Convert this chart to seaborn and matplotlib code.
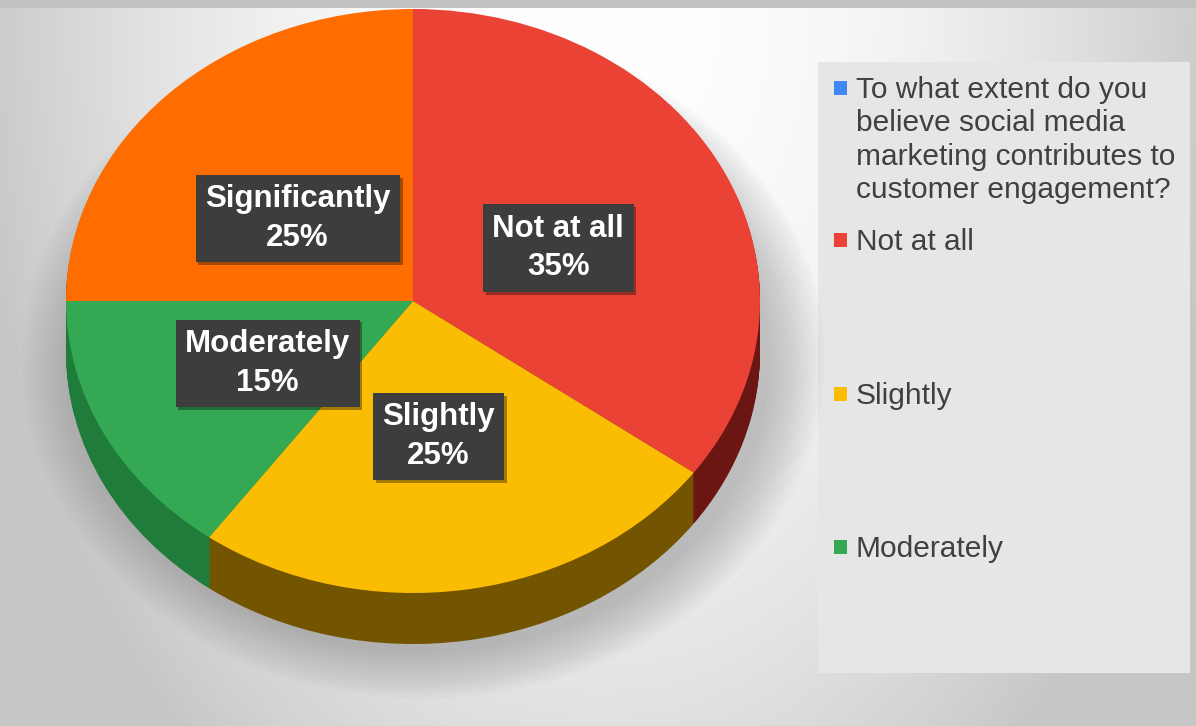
import numpy as np
import matplotlib
matplotlib.use("Agg")
import matplotlib.pyplot as plt
import matplotlib.patheffects as pe
from matplotlib.patches import Rectangle, Ellipse
import seaborn as sns

# ---------------- data ----------------
categories = ["Not at all", "Slightly", "Moderately", "Significantly"]
values = [35, 25, 15, 25]
legend_labels = [
    "To what extent do you\nbelieve social media\nmarketing contributes to\ncustomer engagement?",
    "Not at all",
    "Slightly",
    "Moderately",
]

# ---------------- style ----------------
top_colors = sns.color_palette(["#EA4335", "#FBBC04", "#34A853", "#FF6D01"])
side_colors = sns.color_palette(["#6B1612", "#735400", "#1F7C3B", "#9A4200"])
legend_colors = sns.color_palette(["#4285F4", "#EA4335", "#FBBC04", "#34A853"])

sns.set_theme(style="white")
plt.rcParams["font.family"] = ["Liberation Sans", "DejaVu Sans"]

W, H = 1196, 726
fig = plt.figure(figsize=(W / 100, H / 100), dpi=100)

# ---------------- background ----------------
bg = fig.add_axes([0, 0, 1, 1])
bg.axis("off")
yy, xx = np.mgrid[0:H, 0:W]
dx = (xx - 600) / 600.0
dy = yy / float(H)
v = 1.0 - 0.20 * dx ** 2 - 0.12 * dy ** 2
v = np.clip(v, 0.78, 1.0)
v[:8, :] = 0.76
v[:, :5] = np.minimum(v[:, :5], 0.80)
img = np.dstack([v, v, v])
bg.imshow(img, extent=[0, W, H, 0], aspect="auto", zorder=0)
bg.set_xlim(0, W)
bg.set_ylim(H, 0)

# legend panel
bg.add_patch(Rectangle((818, 62), 372, 611, facecolor="#e6e6e6", edgecolor="none", zorder=1))

# legend entries (baselines in pixels)
entry_baselines = [98, 250, 404, 557]
line_pitch = 33.3
for lab, col, base in zip(legend_labels, legend_colors, entry_baselines):
    bg.add_patch(Rectangle((834, base - 17), 13, 14, facecolor=col, edgecolor="none", zorder=2))
    for k, line in enumerate(lab.split("\n")):
        bg.text(856, base + k * line_pitch, line, fontsize=21.5, color="#404040",
                ha="left", va="baseline", zorder=3)

# ---------------- pie ----------------
ax = fig.add_axes([0, 0, 1, 1])
ax.patch.set_alpha(0)

cx_px, cy_px, a_px, b_px = 413, 301, 347, 292
depth = 51 / b_px

# soft shadow
for i in range(14):
    s = 1.0 + i * 0.012
    ax.add_patch(Ellipse((0.03, -depth - 0.03), 2 * s, 2 * s, facecolor="#707070",
                         edgecolor="none", alpha=0.03, zorder=1))

# side (extrusion) layers
for d in np.linspace(depth, 0.003, 45):
    ax.pie(values, colors=side_colors, startangle=90, counterclock=False,
           center=(0, -d), radius=1.0, wedgeprops=dict(linewidth=0, zorder=2))

label_iter = iter(categories)


def fmt(p):
    return f"{next(label_iter)}\n{p:.0f}%"


wedges, texts, autotexts = ax.pie(
    values, colors=top_colors, startangle=90, counterclock=False,
    center=(0, 0), radius=1.0, autopct=fmt, pctdistance=0.47,
    wedgeprops=dict(linewidth=0, zorder=3),
    textprops=dict(color="white", fontsize=22.5, fontweight="bold", linespacing=1.38))
for t in autotexts:
    t.set_zorder(5)
    # perspective foreshortening of the far half of the tilted pie
    x, y = t.get_position()
    t.set_position((x, y - 0.15 * max(y, 0.0)))
    t.set_bbox(dict(boxstyle="square,pad=0.3", facecolor="#3d3d3d", edgecolor="none"))
    t.get_bbox_patch().set_path_effects(
        [pe.SimplePatchShadow(offset=(2, -2), shadow_rgbFace="black", alpha=0.35), pe.Normal()])

ax.set_aspect("auto")
ax.set_xlim(-cx_px / a_px, (W - cx_px) / a_px)
ax.set_ylim((cy_px - H) / b_px, cy_px / b_px)
ax.axis("off")

fig.savefig("out.png", dpi=100)
